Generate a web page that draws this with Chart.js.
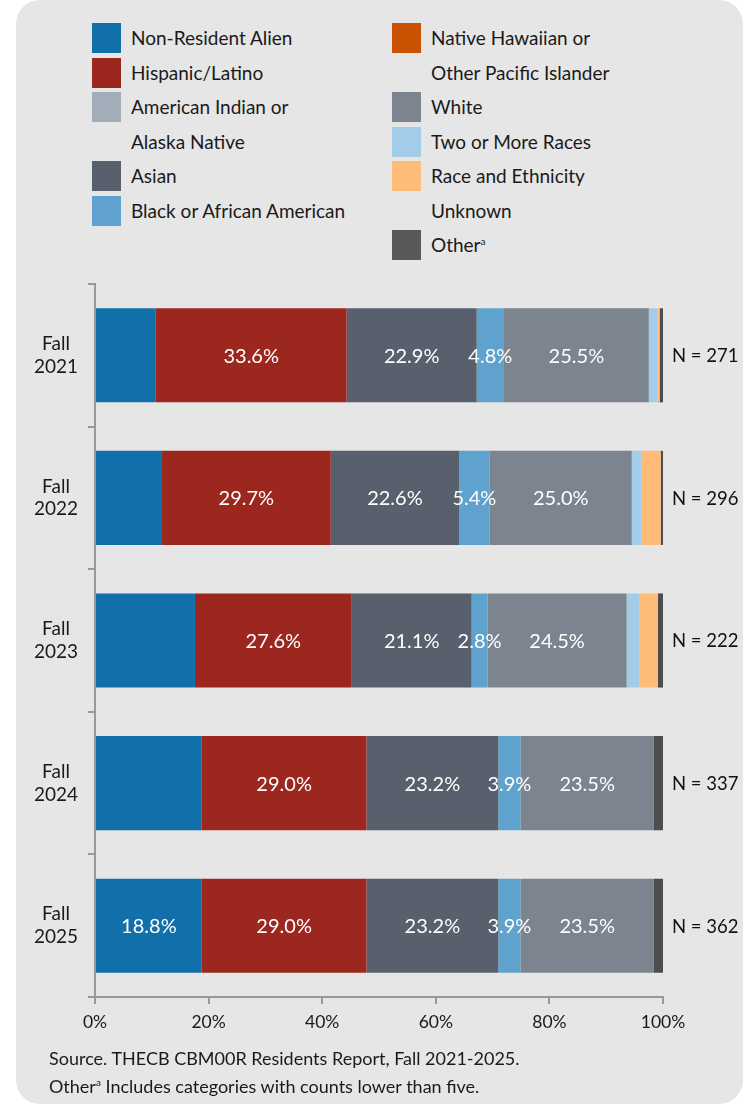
<!DOCTYPE html>
<html lang="en">
<head>
    <meta charset="UTF-8">
    <title>Residents by Race and Ethnicity</title>
    <style>
body, html {
    margin: 0;
    padding: 0;
    width: 752px;
    height: 1106px;
    background-color: #ffffff;
    font-family: 'Lato', 'Open Sans', sans-serif;
    overflow: hidden;
}

#panel {
    position: absolute;
    left: 16px;
    top: 0;
    width: 727px;
    height: 1104px;
    background-color: #e6e6e6;
    border-radius: 24px;
}

.legend-item {
    position: absolute;
    font-size: 19px;
    color: #1a1a1a;
    line-height: 34.5px;
}

.swatch {
    position: absolute;
    width: 29px;
    height: 30px;
}

sup {
    font-size: 10px;
    vertical-align: 7px;
    line-height: 0;
}

#chartBox {
    position: absolute;
    left: 0;
    top: 270px;
    width: 752px;
    height: 780px;
}

.note {
    position: absolute;
    left: 49px;
    font-size: 18px;
    color: #1a1a1a;
}
    </style>
    <script src="https://cdn.jsdelivr.net/npm/chart.js"></script>
</head>
<body>
    <div id="panel"></div>
    <div id="legend"></div>
    <div id="chartBox"><canvas id="raceChart"></canvas></div>
    <div class="note" style="top: 1047px;">Source. THECB CBM00R Residents Report, Fall 2021-2025.</div>
    <div class="note" style="top: 1075px;">Other<sup>a</sup> Includes categories with counts lower than five.</div>

    <script>
        // categories and counts
        const terms = [['Fall', '2021'], ['Fall', '2022'], ['Fall', '2023'], ['Fall', '2024'], ['Fall', '2025']];
        const nCounts = [271, 296, 222, 337, 362];

        // percentages per group, one value per term
        const nonResident   = [10.7, 11.8, 17.6, 18.8, 18.8];
        const hispanic      = [33.6, 29.7, 27.6, 29.0, 29.0];
        const amIndian      = [0, 0, 0, 0, 0];
        const asian         = [22.9, 22.6, 21.1, 23.2, 23.2];
        const black         = [4.8, 5.4, 2.8, 3.9, 3.9];
        const nativeHawaiian = [0, 0, 0, 0, 0];
        const white         = [25.5, 25.0, 24.5, 23.5, 23.5];
        const twoOrMore     = [1.5, 1.7, 2.3, 0, 0];
        const unknown       = [0.4, 3.4, 3.2, 0, 0];
        const other         = [0.7, 0.4, 0.9, 1.6, 1.6];

        const xTicks = [0, 20, 40, 60, 80, 100];

        // which bars carry a value label (Non-Resident Alien only labelled in the last year)
        const nraLabelShown = [false, false, false, false, true];

        const groups = [
            { label: 'Non-Resident Alien', data: nonResident, color: '#1170aa' },
            { label: 'Hispanic/Latino', data: hispanic, color: '#9c271f' },
            { label: 'American Indian or Alaska Native', data: amIndian, color: '#a3acb9' },
            { label: 'Asian', data: asian, color: '#57606c' },
            { label: 'Black or African American', data: black, color: '#5fa2ce' },
            { label: 'Native Hawaiian or Other Pacific Islander', data: nativeHawaiian, color: '#c85200' },
            { label: 'White', data: white, color: '#7b848f' },
            { label: 'Two or More Races', data: twoOrMore, color: '#a3cce9' },
            { label: 'Race and Ethnicity Unknown', data: unknown, color: '#ffbc79' },
            { label: 'Other', data: other, color: '#4d4d4d' }
        ];

        // legend, two columns like the report
        const legendRows = [
            { col: 0, row: 0, lines: ['Non-Resident Alien'], color: '#1170aa' },
            { col: 0, row: 1, lines: ['Hispanic/Latino'], color: '#9c271f' },
            { col: 0, row: 2, lines: ['American Indian or', 'Alaska Native'], color: '#a3acb9' },
            { col: 0, row: 4, lines: ['Asian'], color: '#57606c' },
            { col: 0, row: 5, lines: ['Black or African American'], color: '#5fa2ce' },
            { col: 1, row: 0, lines: ['Native Hawaiian or', 'Other Pacific Islander'], color: '#c85200' },
            { col: 1, row: 2, lines: ['White'], color: '#7b848f' },
            { col: 1, row: 3, lines: ['Two or More Races'], color: '#a3cce9' },
            { col: 1, row: 4, lines: ['Race and Ethnicity', 'Unknown'], color: '#ffbc79' },
            { col: 1, row: 6, lines: ['Other<sup>a</sup>'], color: '#595959' }
        ];

        const legend = document.getElementById('legend');
        legendRows.forEach(item => {
            const left = item.col === 0 ? 92 : 392;
            const top = 21 + item.row * 34.5;
            const sw = document.createElement('div');
            sw.className = 'swatch';
            sw.style.left = left + 'px';
            sw.style.top = (top + 2) + 'px';
            sw.style.background = item.color;
            legend.appendChild(sw);
            const txt = document.createElement('div');
            txt.className = 'legend-item';
            txt.style.left = (left + 39) + 'px';
            txt.style.top = top + 'px';
            txt.innerHTML = item.lines.join('<br>');
            legend.appendChild(txt);
        });

        const labelledSets = ['Hispanic/Latino', 'Asian', 'Black or African American', 'White'];

        const barLabels = {
            id: 'barLabels',
            afterDatasetsDraw(chart) {
                const ctx = chart.ctx;
                ctx.save();
                ctx.font = '20px Lato, sans-serif';
                ctx.textAlign = 'center';
                ctx.textBaseline = 'middle';
                ctx.fillStyle = '#ffffff';
                chart.data.datasets.forEach((ds, i) => {
                    const meta = chart.getDatasetMeta(i);
                    meta.data.forEach((bar, j) => {
                        let show = labelledSets.includes(ds.label);
                        if (ds.label === 'Non-Resident Alien') show = nraLabelShown[j];
                        if (!show) return;
                        const c = bar.getCenterPoint();
                        ctx.fillText(ds.data[j].toFixed(1) + '%', c.x, c.y + 1);
                    });
                });
                // N counts to the right of each bar
                ctx.fillStyle = '#111111';
                ctx.textAlign = 'left';
                ctx.font = '18.5px Lato, sans-serif';
                const yScale = chart.scales.y;
                nCounts.forEach((n, j) => {
                    ctx.fillText('N = ' + n, chart.chartArea.right + 9, yScale.getPixelForValue(j) + 1);
                });
                ctx.restore();
            }
        };

        const ctx = document.getElementById('raceChart').getContext('2d');
        new Chart(ctx, {
            type: 'bar',
            data: {
                labels: terms,
                datasets: groups.map(g => ({
                    label: g.label,
                    data: g.data,
                    backgroundColor: g.color,
                    borderWidth: 0,
                    barPercentage: 0.66,
                    categoryPercentage: 1.0
                }))
            },
            options: {
                indexAxis: 'y',
                responsive: true,
                maintainAspectRatio: false,
                animation: false,
                layout: {
                    padding: { left: 0, right: 89, top: 14, bottom: 8 }
                },
                plugins: {
                    legend: { display: false },
                    tooltip: { enabled: false }
                },
                scales: {
                    x: {
                        stacked: true,
                        min: 0,
                        max: 100,
                        afterBuildTicks: scale => {
                            scale.ticks = xTicks.map(v => ({ value: v }));
                        },
                        afterFit: scale => { scale.height = 45; },
                        ticks: {
                            callback: v => v + '%',
                            color: '#1a1a1a',
                            font: { family: 'Lato', size: 17.5 },
                            padding: 8,
                            maxRotation: 0
                        },
                        grid: {
                            drawOnChartArea: false,
                            drawTicks: true,
                            tickLength: 7,
                            color: '#999999',
                            lineWidth: 2
                        },
                        border: { color: '#999999', width: 2 }
                    },
                    y: {
                        stacked: true,
                        afterFit: scale => {
                            scale.width = 95;
                            scale.paddingTop = 0;
                            scale.paddingBottom = 0;
                        },
                        ticks: {
                            color: '#1a1a1a',
                            font: { family: 'Lato', size: 19 },
                            crossAlign: 'center',
                            padding: 10
                        },
                        grid: {
                            offset: true,
                            drawOnChartArea: false,
                            drawTicks: true,
                            tickLength: 7,
                            color: '#999999',
                            lineWidth: 2
                        },
                        border: { color: '#999999', width: 2 }
                    }
                }
            },
            plugins: [barLabels]
        });
    </script>
</body>
</html>
